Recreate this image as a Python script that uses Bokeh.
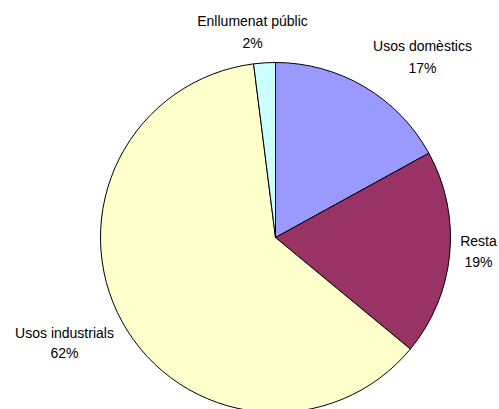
import math
from bokeh.plotting import figure
from bokeh.models import Range1d, ColumnDataSource
from bokeh.core.properties import value
from bokeh.embed import file_html
from bokeh.resources import INLINE

categories = ["Usos domèstics", "Resta", "Usos industrials", "Enllumenat públic"]
shares = [17, 19, 62, 2]
colors = ["#9999FF", "#993366", "#FFFFCC", "#CCFFFF"]
pct_labels = ["17%", "19%", "62%", "2%"]

W, H = 499, 409
p = figure(width=W, height=H, output_backend="svg", toolbar_location=None,
           x_range=Range1d(0, W), y_range=Range1d(0, H), min_border=0)
p.axis.visible = False
p.grid.visible = False
p.outline_line_color = None
p.background_fill_color = "white"

cx, cy, r = 275, H - 237, 175
total = sum(shares)
starts, ends = [], []
cum = 0
for s in shares:
    starts.append(math.pi / 2 - 2 * math.pi * cum / total)
    cum += s
    ends.append(math.pi / 2 - 2 * math.pi * cum / total)

src = ColumnDataSource(dict(start=starts, end=ends, color=colors))
p.wedge(x=cx, y=cy, radius=r, start_angle="start", end_angle="end", direction="clock",
        fill_color="color", line_color="black", line_width=1, source=src)

# label positions (px from top-left)
label_pos = [(422, 45, 67), (478, 240, 261), (64, 332, 352), (252, 20, 42)]
lx, ly1, ly2, t1, t2 = [], [], [], [], []
for (x, y1, y2), c, pl in zip(label_pos, categories, pct_labels):
    lx.append(x)
    ly1.append(H - y1)
    ly2.append(H - y2)
    t1.append(c)
    t2.append(pl)

lsrc = ColumnDataSource(dict(x=lx + lx, y=ly1 + ly2, t=t1 + t2))
p.text(x="x", y="y", text="t", source=lsrc, text_align="center", text_baseline="middle",
       text_font=value("Liberation Sans"), text_font_size="14px", text_color="black")

open("out.html", "w").write(file_html(p, INLINE))
